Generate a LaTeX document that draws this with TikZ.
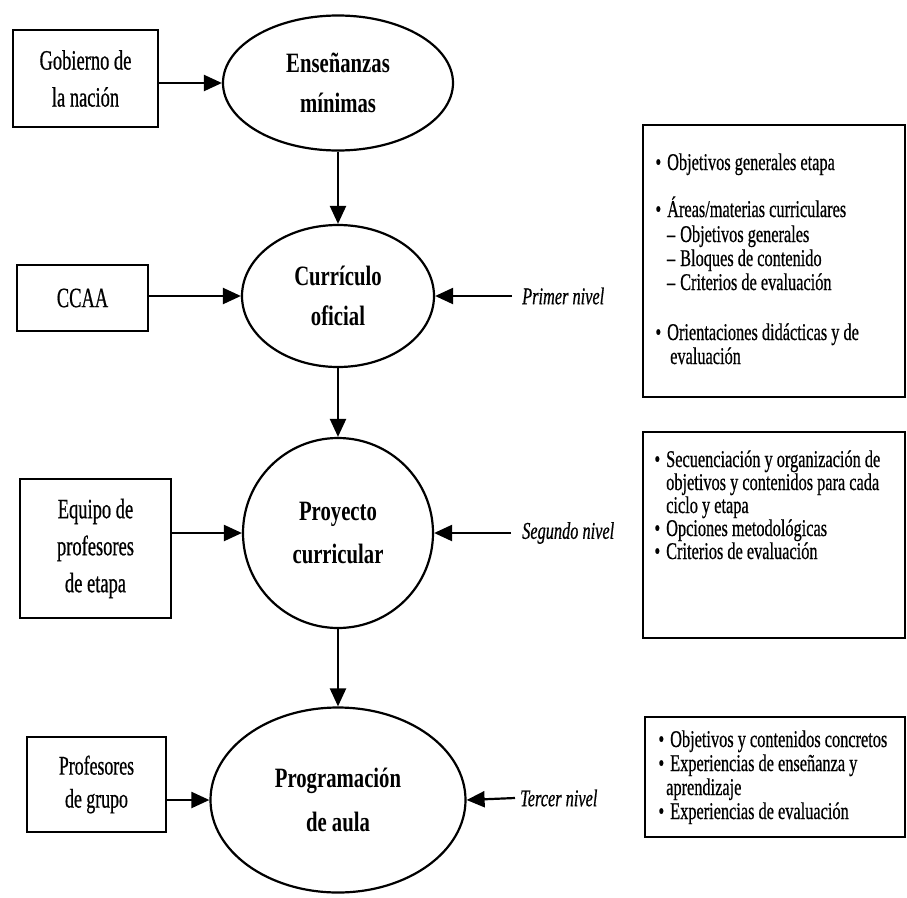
\documentclass[tikz,border=0pt]{standalone}
\usepackage{fontspec}
\setmainfont{Liberation Serif}[FakeStretch=0.68, FakeBold=0.6]
\newfontfamily\lfont{Liberation Serif}[FakeStretch=0.66, FakeBold=0.6]
\newfontfamily\efont{Liberation Serif}[FakeStretch=0.74]
\usetikzlibrary{shapes.geometric,arrows.meta}
\tikzset{
  lbox/.style={draw, line width=2.2pt, rectangle, inner sep=0pt, align=center,
    font=\lfont\fontsize{28}{37}\selectfont},
  ell/.style={draw, ellipse, line width=2.2pt, inner sep=0pt, align=center,
    font=\efont\bfseries\fontsize{28}{40}\selectfont},
  rbox/.style={draw, line width=2.2pt, rectangle, inner sep=0pt},
  item/.style={anchor=base west, inner sep=0pt, font=\fontsize{24}{26}\selectfont},
  lvl/.style={anchor=west, inner sep=0pt, font=\itshape\fontsize{24}{26}\selectfont},
  arr/.style={line width=2.2pt, -{Triangle[length=18pt,width=16pt]}},
}
\newcommand{\bul}{\llap{\textbullet\hspace{6pt}}}
\newcommand{\dsh}{\llap{--\hspace{5pt}}}
\begin{document}
\begin{tikzpicture}[x=1pt,y=-1pt]
\useasboundingbox (0,0) rectangle (907,897);

% ellipses
\node[ell, minimum width=230, minimum height=135] (ens) at (338,83) {Enseñanzas\\mínimas};
\node[ell, minimum width=192, minimum height=142] (cur) at (338,296) {Currículo\\oficial};
\node[ell, minimum width=190, minimum height=190, font=\efont\bfseries\fontsize{28}{43}\selectfont] (pro) at (338,533) {Proyecto\\curricular};
\node[ell, minimum width=255, minimum height=185, font=\efont\bfseries\fontsize{28}{44}\selectfont] (prog) at (338,800) {Programación\\de aula};

% left boxes
\node[lbox, minimum width=145, minimum height=97] (gob) at (85.5,78.5) {Gobierno de\\la nación};
\node[lbox, minimum width=131, minimum height=66] (ccaa) at (82.5,298) {CCAA};
\node[lbox, minimum width=151, minimum height=139] (equ) at (95.5,548.5) {Equipo de\\profesores\\de etapa};
\node[lbox, minimum width=139, minimum height=95, font=\lfont\fontsize{27}{33}\selectfont] (prof) at (96.5,784.5) {Profesores\\de grupo};

% arrows from left
\draw[arr] (gob.east |- ens.west) -- (ens.west);
\draw[arr] (ccaa.east |- cur.west) -- (cur.west);
\draw[arr] (equ.east |- pro.west) -- (pro.west);
\draw[arr] (prof.east |- prog.west) -- (prog.west);

% vertical arrows
\draw[arr] (ens.south) -- (cur.north);
\draw[arr] (cur.south) -- (pro.north);
\draw[arr] (pro.south) -- (prog.north);

% level labels
\coordinate (t1) at (512,296);
\coordinate (t2) at (511,533);
\coordinate (t3) at (515,798);
\node[lvl] (l1) at (522,296) {Primer nivel};
\node[lvl] (l2) at (522,533) {Segundo nivel};
\node[lvl] (l3) at (520,798) {Tercer nivel};
\draw[arr] (t1) -- (cur.east);
\draw[arr] (t2) -- (pro.east);
\draw[arr] (t3) -- (prog.east);

% right boxes
\node[rbox, minimum width=262, minimum height=272] (ba) at (774,261) {};
\node[rbox, minimum width=262, minimum height=206] (bb) at (774,535) {};
\node[rbox, minimum width=260, minimum height=120] (bc) at (775,777) {};

% box A text
\node[item] (a1) at (667,170) {\bul Objetivos generales etapa};
\node[item] (a2) at (667,217) {\bul Áreas/materias curriculares};
\node[item] (a3) at (680,242) {\dsh Objetivos generales};
\node[item] (a4) at (680,266) {\dsh Bloques de contenido};
\node[item] (a5) at (680,290) {\dsh Criterios de evaluación};
\node[item] (a6) at (667,340) {\bul Orientaciones didácticas y de};
\node[item] (a7) at (670,364) {evaluación};

% box B text
\node[item] (b1) at (666,467) {\bul Secuenciación y organización de};
\node[item] (b2) at (666,490) {objetivos y contenidos para cada};
\node[item] (b3) at (666,513) {ciclo y etapa};
\node[item] (b4) at (666,536) {\bul Opciones metodológicas};
\node[item] (b5) at (666,559) {\bul Criterios de evaluación};

% box C text
\node[item] (c1) at (670,747) {\bul Objetivos y contenidos concretos};
\node[item] (c2) at (670,771) {\bul Experiencias de enseñanza y};
\node[item] (c3) at (666,795) {aprendizaje};
\node[item] (c4) at (670,819) {\bul Experiencias de evaluación};
\end{tikzpicture}
\end{document}
